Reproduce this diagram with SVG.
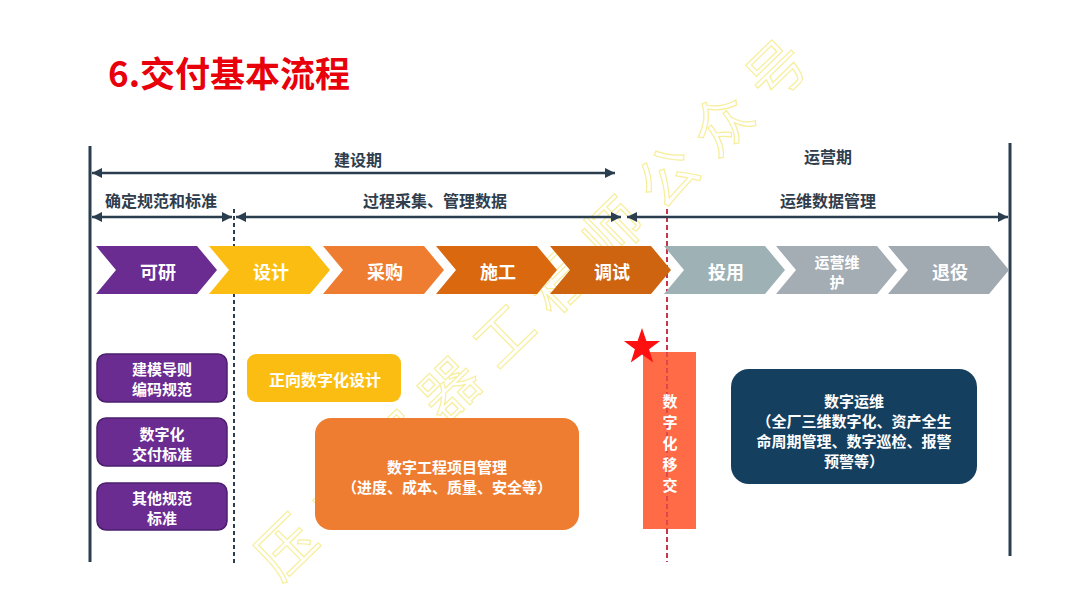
<svg xmlns="http://www.w3.org/2000/svg" width="1080" height="608" viewBox="0 0 1080 608">
<defs>
<style>
.t{font-family:"Noto Sans CJK SC","Noto Sans",sans-serif;font-weight:bold;text-anchor:middle;dominant-baseline:central}
.lbl{font-size:16px;fill:#2f3d4c}
.wt{fill:#ffffff}
.c15{font-size:15px}
.c16{font-size:16px}
.c18{font-size:18px}
.ax{stroke:#2b3e50;stroke-width:2.5;fill:none}
.vl{stroke:#2b3e50;stroke-width:3}
</style>
<marker id="ah" viewBox="0 0 10 10" refX="10" refY="5" markerWidth="4" markerHeight="4" markerUnits="strokeWidth" orient="auto-start-reverse">
<path d="M0,0 L10,5 L0,10 z" fill="#2b3e50"/>
</marker>
</defs>
<rect width="1080" height="608" fill="#ffffff"/>
<text x="535" y="300" transform="rotate(-44.2 535 300)" style="font-family:'Noto Sans CJK SC',sans-serif;font-size:58px;text-anchor:middle;dominant-baseline:central;letter-spacing:18px" fill="none" stroke="#f7ee9c" stroke-width="1.2">压力容器工程师公众号</text>
<text x="108" y="71" style="font-family:'Noto Sans CJK SC','Noto Sans',sans-serif;font-weight:bold;font-size:35px;dominant-baseline:central" fill="#e8000b">6.交付基本流程</text>
<g id="connectors">
<line class="vl" x1="90" y1="146" x2="90" y2="562"/>
<line class="vl" x1="1010" y1="143" x2="1010" y2="556"/>
<line x1="234" y1="209" x2="234" y2="566" stroke="#2b3e50" stroke-width="2" stroke-dasharray="4,3"/>
<line x1="667" y1="209" x2="667" y2="562" stroke="#c8344a" stroke-width="2" stroke-dasharray="5,3"/>
<line class="ax" x1="92" y1="173" x2="615" y2="173" marker-start="url(#ah)" marker-end="url(#ah)"/>
<line class="ax" x1="92" y1="217" x2="232" y2="217" marker-start="url(#ah)" marker-end="url(#ah)"/>
<line class="ax" x1="236" y1="217" x2="621" y2="217" marker-start="url(#ah)" marker-end="url(#ah)"/>
<line class="ax" x1="627" y1="217" x2="1008" y2="217" marker-start="url(#ah)" marker-end="url(#ah)"/>
</g>
<g id="phase-labels">
<text class="t lbl" x="358" y="159">建设期</text>
<text class="t lbl" x="828" y="156">运营期</text>
<text class="t lbl" x="161" y="200">确定规范和标准</text>
<text class="t lbl" x="435" y="200">过程采集、管理数据</text>
<text class="t lbl" x="828" y="200">运维数据管理</text>
</g>
<g id="chev-keyan"><polygon points="96,246 197,246 217,270 197,294 96,294 116,270" fill="#6a2c91"/><text class="t wt c18" x="158" y="271">可研</text></g>
<g id="chev-sheji"><polygon points="209,246 310,246 330,270 310,294 209,294 229,270" fill="#fbbd12"/><text class="t wt c18" x="271" y="271">设计</text></g>
<g id="chev-caigou"><polygon points="323,246 424,246 444,270 424,294 323,294 343,270" fill="#ee7d31"/><text class="t wt c18" x="385" y="271">采购</text></g>
<g id="chev-shigong"><polygon points="436,246 537,246 557,270 537,294 436,294 456,270" fill="#d9680f"/><text class="t wt c18" x="498" y="271">施工</text></g>
<g id="chev-tiaoshi"><polygon points="550,246 651,246 671,270 651,294 550,294 570,270" fill="#cf6410"/><text class="t wt c18" x="612" y="271">调试</text></g>
<g id="chev-touyong"><polygon points="664,246 765,246 785,270 765,294 664,294 684,270" fill="#9eb2b6"/><text class="t wt c18" x="726" y="271">投用</text></g>
<g id="chev-yunying"><polygon points="776,246 877,246 897,270 877,294 776,294 796,270" fill="#a3adb3"/><text class="t wt c15" x="837" y="261">运营维<tspan x="837" dy="20">护</tspan></text></g>
<g id="chev-tuiyi"><polygon points="888,246 989,246 1009,270 989,294 888,294 908,270" fill="#a1a9b1"/><text class="t wt c18" x="950" y="271">退役</text></g>
<g id="box-jianmo"><rect x="97" y="354" width="130" height="48" rx="9" fill="#6a2c91" stroke="#4b1f6d" stroke-width="1.5"/><text class="t wt c15" x="162" y="368">建模导则<tspan x="162" dy="20">编码规范</tspan></text></g>
<g id="box-jiaofu"><rect x="97" y="418" width="130" height="48" rx="9" fill="#6a2c91" stroke="#4b1f6d" stroke-width="1.5"/><text class="t wt c15" x="162" y="433">数字化<tspan x="162" dy="20">交付标准</tspan></text></g>
<g id="box-qita"><rect x="97" y="483" width="130" height="47" rx="9" fill="#6a2c91" stroke="#4b1f6d" stroke-width="1.5"/><text class="t wt c15" x="162" y="497">其他规范<tspan x="162" dy="20">标准</tspan></text></g>
<g id="box-zhengxiang"><rect x="247" y="354" width="154" height="48" rx="9" fill="#fbbd12"/><text class="t wt c16" x="325" y="379">正向数字化设计</text></g>
<g id="box-xiangmu"><rect x="315" y="418" width="264" height="112" rx="16" fill="#ee7d31"/><text class="t wt c15" x="447" y="466">数字工程项目管理<tspan x="447" dy="20">（进度、成本、质量、安全等）</tspan></text></g>
<g id="box-yijiao"><rect x="643" y="352" width="53" height="177" fill="#ff6b47"/>
<line x1="667" y1="352" x2="667" y2="529" stroke="#c8344a" stroke-width="2" stroke-dasharray="5,3" opacity="0.6"/>
<text class="t wt c15" x="670" y="400">数<tspan x="670" dy="21">字</tspan><tspan x="670" dy="21">化</tspan><tspan x="670" dy="21">移</tspan><tspan x="670" dy="21">交</tspan></text>
<polygon points="642,328 646.4,340.9 660.1,341.1 649.1,349.3 653.2,362.4 642,354.5 630.8,362.4 634.9,349.3 623.9,341.1 637.6,340.9" fill="#ff1010"/></g>
<g id="box-yunwei"><rect x="731" y="369" width="246" height="115" rx="18" fill="#153f5f"/><text class="t wt c15" x="854" y="400">数字运维<tspan x="854" dy="20">（全厂三维数字化、资产全生</tspan><tspan x="854" dy="20">命周期管理、数字巡检、报警</tspan><tspan x="854" dy="20">预警等）</tspan></text></g>
</svg>
